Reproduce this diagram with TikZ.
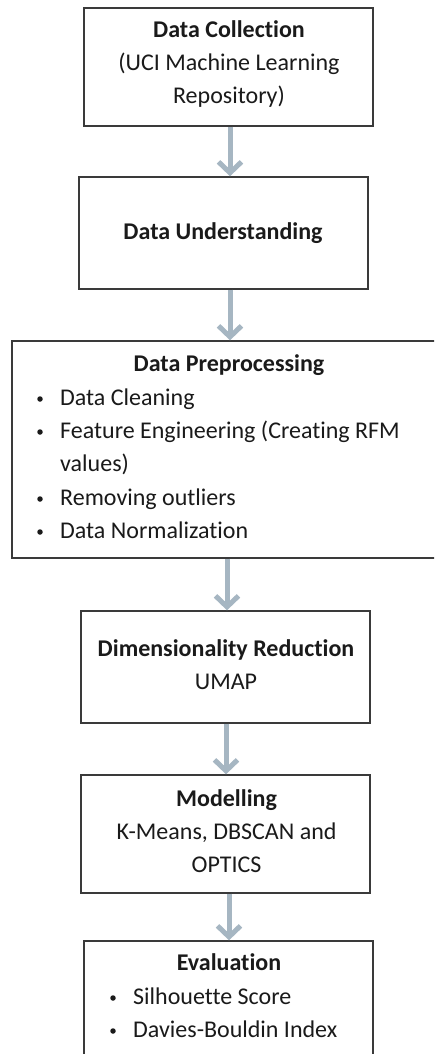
\documentclass[tikz,border=0pt]{standalone}
\usepackage{fontspec}
\setmainfont{Carlito}[Ligatures=NoCommon]
\usetikzlibrary{arrows.meta}
\definecolor{arrowc}{HTML}{A6B6C2}
\definecolor{boxc}{HTML}{3A3A3A}
\definecolor{textc}{HTML}{1A1A1A}
\begin{document}
\begin{tikzpicture}[x=1pt,y=-1pt,
  box/.style={draw=boxc, line width=1.4pt, inner sep=0pt, fill=white},
  txt/.style={anchor=base, inner sep=0pt, text=textc, font=\fontsize{24}{28}\selectfont},
  hd/.style={txt, font=\fontsize{24}{28}\selectfont\bfseries},
  lt/.style={txt, anchor=base west},
  bul/.style={circle, fill=textc, inner sep=0pt, minimum size=5.5pt},
  flow/.style={draw=arrowc, line width=5pt, -{Straight Barb[length=11pt,width=23pt]}}
]
\useasboundingbox (0,0) rectangle (434,1054);
\clip (0,0) rectangle (434,1054);
% boxes
\node[box, minimum width=289pt, minimum height=118pt] (b1) at (228.5,67) {};
\node[box, minimum width=289pt, minimum height=112pt] (b2) at (223.5,233) {};
\node[box, minimum width=430pt, minimum height=217pt] (b3) at (227,449.5) {};
\node[box, minimum width=289pt, minimum height=112pt] (b4) at (225.5,667) {};
\node[box, minimum width=289pt, minimum height=118pt] (b5) at (225.5,834) {};
\node[box, minimum width=289pt, minimum height=130pt] (b6) at (228.5,1006) {};
% arrows
\draw[flow] ([xshift=1.5pt]b1.south) -- ([xshift=6.5pt]b2.north);
\draw[flow] ([xshift=6.5pt]b2.south) -- ([xshift=3pt]b3.north);
\draw[flow] ([xshift=0pt]b3.south) -- ([xshift=1.5pt]b4.north);
\draw[flow] ([xshift=0.5pt]b4.south) -- ([xshift=0.5pt]b5.north);
\draw[flow] ([xshift=3.5pt]b5.south) -- ([xshift=0.5pt]b6.north);
% box 1
\node[hd] (t1a) at (229,38) {Data Collection};
\node[txt] (t1b) at (229,71) {(UCI Machine Learning};
\node[txt] (t1c) at (229,104) {Repository)};
% box 2
\node[hd] (t2a) at (223,239) {Data Understanding};
% box 3
\node[hd] (t3a) at (229,371) {Data Preprocessing};
\node[bul] (p1) at (40,399) {};
\node[lt] (t3b) at (60,405) {Data Cleaning};
\node[bul] (p2) at (40,432) {};
\node[lt] (t3c) at (60,438) {Feature Engineering (Creating RFM};
\node[lt] (t3d) at (60,471) {values)};
\node[bul] (p3) at (40,499) {};
\node[lt] (t3e) at (60,505) {Removing outliers};
\node[bul] (p4) at (40,532) {};
\node[lt] (t3f) at (60,538) {Data Normalization};
% box 4
\node[hd] (t4a) at (226,656) {Dimensionality Reduction};
\node[txt] (t4b) at (226,689) {UMAP};
% box 5
\node[hd] (t5a) at (226.5,806) {Modelling};
\node[txt] (t5b) at (226.5,839) {K-Means, DBSCAN and};
\node[txt] (t5c) at (226.5,872) {OPTICS};
% box 6
\node[hd] (t6a) at (229,970) {Evaluation};
\node[bul] (p5) at (113,998) {};
\node[lt] (t6b) at (133,1004) {Silhouette Score};
\node[bul] (p6) at (113,1031) {};
\node[lt] (t6c) at (133,1037) {Davies-Bouldin Index};
\end{tikzpicture}
\end{document}
